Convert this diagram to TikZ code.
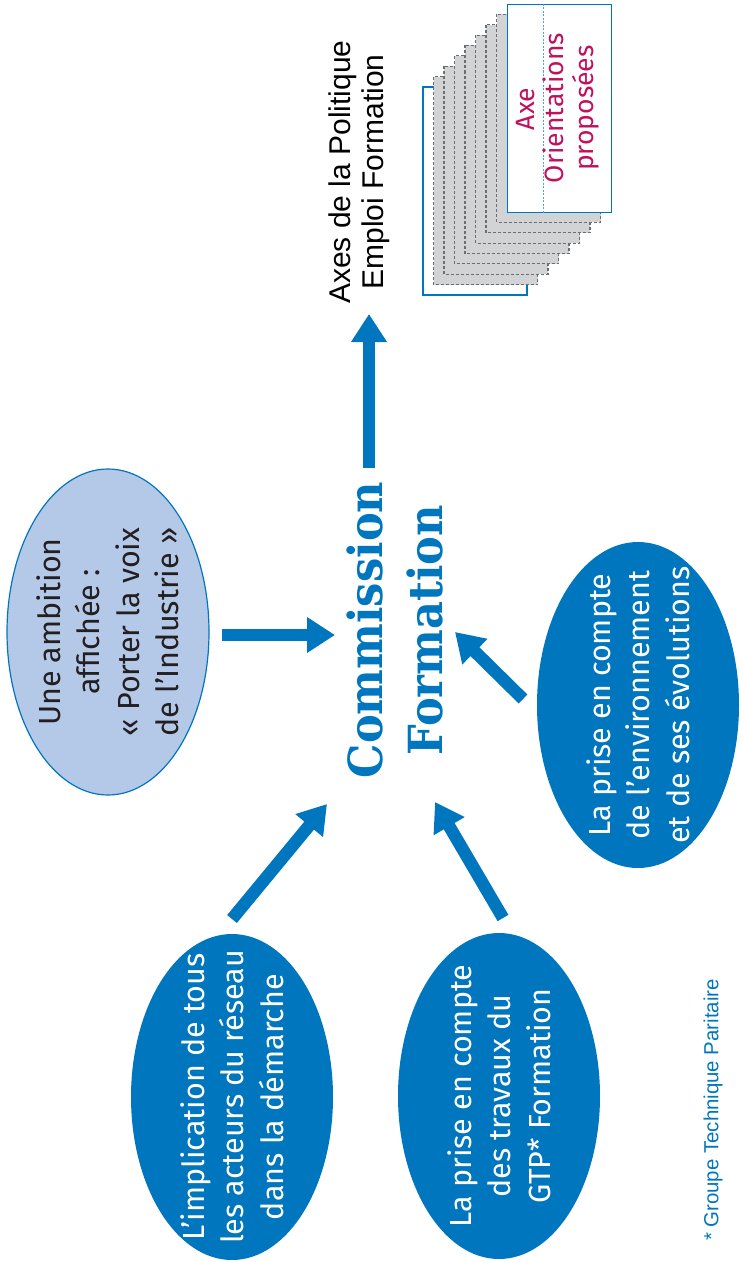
\documentclass[tikz,border=0pt]{standalone}
\usepackage{fontspec}
\setmainfont{Fira Sans}
\newfontfamily\arialfont{Liberation Sans}
\newfontfamily\slabfont{DejaVu Serif}[FakeStretch=0.92]
\usetikzlibrary{shapes.geometric,arrows.meta}
\definecolor{cfblue}{HTML}{0076BE}
\definecolor{palefill}{HTML}{B4C8E8}
\definecolor{pagegray}{HTML}{D1D3D4}
\definecolor{dashgray}{HTML}{6D6E71}
\definecolor{axemagenta}{HTML}{C0105E}
\definecolor{dividerblue}{HTML}{4FA3D8}
\definecolor{inkdark}{HTML}{231F20}
\begin{document}
\begin{tikzpicture}[x=1pt,y=-1pt,
  bubble/.style={ellipse, minimum width=202pt, minimum height=326pt, inner sep=0pt},
  darkbubble/.style={bubble, fill=cfblue},
  palebubble/.style={bubble, fill=palefill, draw=cfblue, line width=1.2pt},
  bubbletext/.style={rotate=90, inner sep=0pt, align=center, font=\fontsize{30.5}{39.5}\selectfont},
  bigarrow/.style={cfblue, line width=12.5pt, -{Triangle[length=28pt,width=34pt]}},
  whitesheet/.style={fill=white, draw=cfblue, line width=1.2pt},
  graysheet/.style={fill=pagegray, draw=dashgray, line width=1.1pt, dash pattern=on 3pt off 2pt},
  upright/.style={rotate=90, inner sep=0pt, align=center}]
\useasboundingbox (0,0) rectangle (742,1263);

% stack of sheets, back to front
\draw[whitesheet] (423,87) rectangle (527,295);
\foreach \i in {1,...,7}{
  \draw[graysheet] (423+10.5*\i,87-10.375*\i) rectangle (527+10.5*\i,295-10.375*\i);
}
\node[whitesheet, minimum width=104pt, minimum height=208pt, inner sep=0pt, anchor=north west] (front) at (507,4) {};
\draw[dividerblue, line width=1pt, dash pattern=on 2pt off 1.5pt] (front.north) ++(-16,0) coordinate (divtop) -- (divtop |- front.south);

\node[upright, text=axemagenta, font=\fontsize{26.5}{30}\selectfont] (axe) at (526,109) {Axe};
\node[upright, text=axemagenta, font=\fontsize{26.5}{30}\selectfont] (orient) at (571,108) {Orientations\\proposées};

% headline for the axes
\node[upright, text=black, font=\arialfont\fontsize{30}{33}\selectfont] (axes) at (359,172) {Axes de la Politique\\Emploi Formation};

% central title
\node[upright, text=cfblue, font=\slabfont\bfseries\fontsize{47}{60}\selectfont] (comm) at (395,630) {Commission\\Formation};

% input bubbles
\node[palebubble] (ambition) at (108,632) {};
\node[bubbletext, text=inkdark] (ambition-text) at (ambition.center) {Une ambition\\affichée~:\\«~Porter la voix\\de l’Industrie~»};
\node[darkbubble] (acteurs) at (232,1097) {};
\node[bubbletext, text=white] (acteurs-text) at (acteurs.center) {L’implication de tous\\les acteurs du réseau\\dans la démarche};
\node[darkbubble] (gtp) at (499,1096) {};
\node[bubbletext, text=white] (gtp-text) at (gtp.center) {La prise en compte\\des travaux du\\GTP* Formation};
\node[darkbubble] (envir) at (638,705) {};
\node[bubbletext, text=white] (envir-text) at (envir.center) {La prise en compte\\de l’environnement\\et de ses évolutions};

% footnote
\node[upright, text=cfblue, font=\arialfont\fontsize{20.4}{22}\selectfont] (note) at (713,1110) {* Groupe Technique Paritaire};

% arrow ends
\coordinate (ambition-out) at (222,635);
\coordinate (comm-left) at (335,635);
\coordinate (comm-top) at (369,468);
\coordinate (axes-in) at (369,314);
\coordinate (acteurs-out) at (232,919);
\coordinate (comm-ll) at (327,804);
\coordinate (gtp-out) at (503,918);
\coordinate (comm-lr) at (435,802);
\coordinate (envir-out) at (523,699);
\coordinate (comm-r) at (455,632);

\draw[bigarrow] (ambition-out) -- (comm-left);
\draw[bigarrow] (comm-top) -- (axes-in);
\draw[bigarrow] (acteurs-out) -- (comm-ll);
\draw[bigarrow] (gtp-out) -- (comm-lr);
\draw[bigarrow] (envir-out) -- (comm-r);
\end{tikzpicture}
\end{document}
